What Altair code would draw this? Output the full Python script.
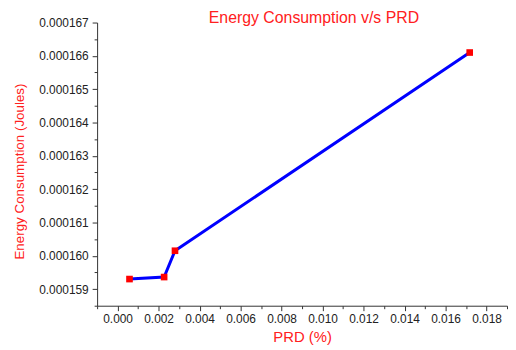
import altair as alt
import pandas as pd

prd = [0.00058, 0.00227, 0.0028, 0.01718]
energy = [0.0001593, 0.00015936, 0.00016015, 0.0001661]

x_major = [0.000, 0.002, 0.004, 0.006, 0.008, 0.010, 0.012, 0.014, 0.016, 0.018]
x_minor = [-0.001, 0.001, 0.003, 0.005, 0.007, 0.009, 0.011, 0.013, 0.015, 0.017, 0.019]
y_major = [0.000159, 0.000160, 0.000161, 0.000162, 0.000163, 0.000164, 0.000165, 0.000166, 0.000167]
y_minor = [0.0001585, 0.0001595, 0.0001605, 0.0001615, 0.0001625, 0.0001635, 0.0001645, 0.0001655, 0.0001665]

df = pd.DataFrame({"prd": prd, "energy": energy})

xs = alt.Scale(domain=[-0.001, 0.019], nice=False, zero=False)
ys = alt.Scale(domain=[0.0001585, 0.000167], nice=False, zero=False)

FONT = "Liberation Sans"

x_ax = alt.Axis(values=x_major, format=".3f", title="PRD (%)", grid=False, orient="bottom",
                domainColor="#333", tickColor="#333", tickSize=5, labelFontSize=12,
                labelColor="#222", labelFont=FONT, titleFont=FONT, titleFontSize=15,
                titleColor="#ff2020", titleFontWeight="normal", titlePadding=5, labelPadding=3)
y_ax = alt.Axis(values=y_major, format=".6f", title="Energy Consumption (Joules)", grid=False, orient="left",
                domainColor="#333", tickColor="#333", tickSize=5, labelFontSize=12,
                labelColor="#222", labelFont=FONT, titleFont=FONT, titleFontSize=13.5,
                titleColor="#ff2020", titleFontWeight="normal", titlePadding=12, labelPadding=4,
                titleY=150)

base = alt.Chart(df)

line = base.mark_line(color="#0000ff", strokeWidth=3).encode(
    x=alt.X("prd:Q", scale=xs, axis=x_ax),
    y=alt.Y("energy:Q", scale=ys, axis=y_ax),
)
pts = base.mark_square(color="#ff0000", size=45, opacity=1).encode(
    x=alt.X("prd:Q", scale=xs, axis=None),
    y=alt.Y("energy:Q", scale=ys, axis=None),
)
minor = base.mark_point(opacity=0).encode(
    x=alt.X("prd:Q", scale=xs, axis=alt.Axis(values=x_minor, labels=False, title=None, grid=False, orient="bottom",
                                              domain=False, tickSize=3, tickColor="#333")),
    y=alt.Y("energy:Q", scale=ys, axis=alt.Axis(values=y_minor, labels=False, title=None, grid=False, orient="left",
                                                 domain=False, tickSize=3, tickColor="#333")),
)

chart = alt.layer(line, minor, pts).resolve_axis(x="independent", y="independent").properties(
    width=414, height=286,
    background="white",
    padding={"left": 4, "top": 0, "right": 0, "bottom": 0},
    title=alt.TitleParams("Energy Consumption v/s PRD", color="#ff2020", fontSize=16,
                          font=FONT, fontWeight="normal", anchor="middle", offset=-9, dx=12),
).configure_view(stroke=None)

chart.save("out.html", embed_options={"renderer": "svg", "actions": False})
